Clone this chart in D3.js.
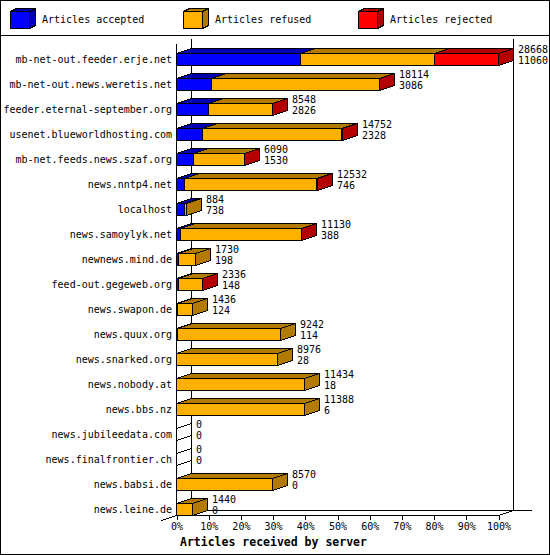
<!DOCTYPE html>
<html>
<head>
<meta charset="utf-8">
<script src="https://cdn.jsdelivr.net/npm/d3@7"></script>
<style>
body { margin: 0; background: #fff; }
svg { display: block; shape-rendering: crispEdges; }
text { font-family: "DejaVu Sans Mono", monospace; font-size: 10px; fill: #000; }
</style>
</head>
<body>
<script>
var width = 550, height = 555;

var servers = ["mb-net-out.feeder.erje.net", "mb-net-out.news.weretis.net", "feeder.eternal-september.org",
  "usenet.blueworldhosting.com", "mb-net.feeds.news.szaf.org", "news.nntp4.net", "localhost",
  "news.samoylyk.net", "newnews.mind.de", "feed-out.gegeweb.org", "news.swapon.de", "news.quux.org",
  "news.snarked.org", "news.nobody.at", "news.bbs.nz", "news.jubileedata.com", "news.finalfrontier.ch",
  "news.babsi.de", "news.leine.de"];
var offered  = [28668, 18114, 8548, 14752, 6090, 12532, 884, 11130, 1730, 2336, 1436, 9242, 8976, 11434, 11388, 0, 0, 8570, 1440];
var accepted = [11060, 3086, 2826, 2328, 1530, 746, 738, 388, 198, 148, 124, 114, 28, 18, 6, 0, 0, 0, 0];
var refused  = [11900, 14986, 5691, 12388, 4538, 11759, 146, 10718, 1532, 2172, 1312, 9128, 8948, 11416, 11382, 0, 0, 8570, 1440];
var rejected = [5708, 42, 31, 36, 22, 27, 0, 24, 0, 16, 0, 0, 0, 0, 0, 0, 0, 0, 0];
var pctTicks = [0, 10, 20, 30, 40, 50, 60, 70, 80, 90, 100];

var seriesKeys = ["accepted", "refused", "rejected"];
var seriesNames = ["Articles accepted", "Articles refused", "Articles rejected"];
var front = {accepted: "#0000ff", refused: "#ffb000", rejected: "#ff0000", none: "none"};
var dark = {accepted: "#0000b2", refused: "#b27b00", rejected: "#b20000", none: "none"};

var dx = 15, dy = 5, half = 6;
var maxOffered = d3.max(offered);

var svg = d3.select("body")
.append("svg")
.attr("width", width)
.attr("height", height)
.attr("id", "svg");

var x = d3.scaleLinear().domain([0, 100]).range([176, 498]);
var y = d3.scalePoint().domain(servers).range([59, 509]);

// frame and legend separator
svg.append("rect")
.attr("x", 0.5).attr("y", 0.5)
.attr("width", width - 1).attr("height", height - 1)
.attr("fill", "white").attr("stroke", "black");
svg.append("line")
.attr("x1", 0).attr("x2", width).attr("y1", 35.5).attr("y2", 35.5)
.attr("stroke", "black");

function boxPolys(x0, x1, top, bot, ddx, ddy){
    return {
        top: [[x0, top], [x1, top], [x1 + ddx, top - ddy], [x0 + ddx, top - ddy]],
        side: [[x1, top], [x1 + ddx, top - ddy], [x1 + ddx, bot - ddy], [x1, bot]],
        front: [[x0, top], [x1, top], [x1, bot], [x0, bot]]
    };
}

function drawBox(g, x0, x1, top, bot, ddx, ddy, key){
    var p = boxPolys(x0, x1, top, bot, ddx, ddy);
    [["top", dark[key]], ["side", dark[key]], ["front", front[key]]].forEach(function(f){
        g.append("polygon")
        .attr("points", p[f[0]].map(function(q){ return q.join(","); }).join(" "))
        .attr("fill", f[1])
        .attr("stroke", "black")
        .attr("stroke-linejoin", "miter");
    });
}

// legend
var legend = svg.append("g").attr("id", "legend");
var legendX = [10, 183, 358];
seriesKeys.forEach(function(k, i){
    var g = legend.append("g");
    drawBox(g, legendX[i] + 0.5, legendX[i] + 19.5, 11.5, 28.5, 6, 3, k);
    g.append("text")
    .attr("x", legendX[i] + 32)
    .attr("y", 23)
    .text(seriesNames[i]);
});

// walls
var walls = svg.append("g").attr("id", "walls").attr("stroke", "black");
walls.append("line").attr("x1", 191.5).attr("x2", 191.5).attr("y1", 39).attr("y2", 510.5);
walls.append("line").attr("x1", 513.5).attr("x2", 513.5).attr("y1", 39).attr("y2", 510.5);
walls.append("line").attr("x1", 191).attr("x2", 532).attr("y1", 510.5).attr("y2", 510.5);

// bars
var table = servers.map(function(s, i){
    return {server: s, accepted: accepted[i], refused: refused[i], rejected: rejected[i]};
});
var stacked = d3.stack().keys(seriesKeys)(table);

var bars = svg.append("g").attr("id", "bars");
stacked.forEach(function(series){
    series.forEach(function(d, i){
        var cy = y(d.data.server);
        if (d[1] - d[0] <= 0){
            // empty rows still get an outline box
            if (series.key == "rejected" && offered[i] == 0){
                drawBox(bars, x(0) + 0.5, x(0) + 0.5, cy - half + 0.5, cy + half + 0.5, dx, dy, "none");
            }
            return;
        }
        var x0 = Math.round(x(d[0] / maxOffered * 100)) + 0.5;
        var x1 = Math.round(x(d[1] / maxOffered * 100)) + 0.5;
        drawBox(bars, x0, x1, cy - half + 0.5, cy + half + 0.5, dx, dy, series.key);
    });
});

// front axis lines
var axisLines = svg.append("g").attr("stroke", "black");
axisLines.append("line").attr("x1", 176.5).attr("x2", 176.5).attr("y1", 44).attr("y2", 515.5);
axisLines.append("line").attr("x1", 176).attr("x2", 498.5).attr("y1", 515.5).attr("y2", 515.5);
axisLines.append("line").attr("x1", 498.5).attr("x2", 513.5).attr("y1", 515.5).attr("y2", 510.5);
axisLines.append("line").attr("x1", 176.5).attr("x2", 161.5).attr("y1", 515.5).attr("y2", 520.5);

var xAxis = d3.axisBottom(x)
.tickValues(pctTicks)
.tickFormat(function(d){ return d + "%"; })
.tickSize(4)
.tickPadding(3);

var axisG = svg.append("g")
.attr("transform", "translate(0.5,515.5)")
.call(xAxis);
axisG.select(".domain").remove();
axisG.selectAll("text")
.attr("font-family", "DejaVu Sans Mono")
.attr("font-size", 10)
.attr("fill", "black");

svg.append("text")
.attr("x", 180)
.attr("y", 546)
.attr("font-weight", "bold")
.style("font-size", "11.5px")
.text("Articles received by server");

// category labels
svg.append("g").selectAll("text")
.data(servers)
.enter().append("text")
.attr("x", 172)
.attr("y", function(d){ return y(d) + 3.5; })
.attr("text-anchor", "end")
.text(function(d){ return d; });

// value labels
var vals = svg.append("g").selectAll("g")
.data(servers)
.enter().append("g")
.attr("transform", function(d, i){
    return "translate(" + (Math.round(x(offered[i] / maxOffered * 100)) + dx + 5) + "," + y(d) + ")";
});
vals.append("text").attr("y", -6.5).text(function(d, i){ return offered[i]; });
vals.append("text").attr("y", 4.5).text(function(d, i){ return accepted[i]; });
</script>
</body>
</html>
